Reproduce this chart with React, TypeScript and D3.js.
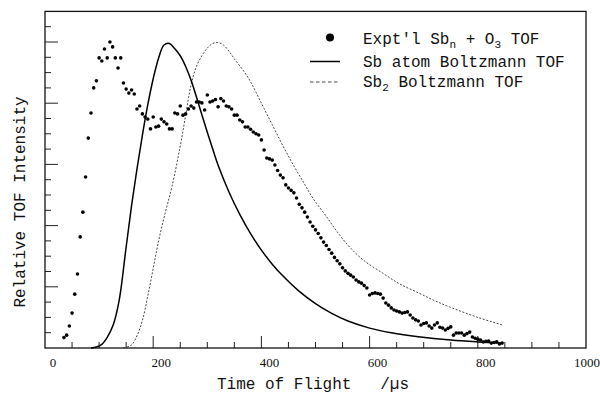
import React from 'react';
import * as d3 from 'd3';

// experimental TOF points (µs, relative intensity)
const exptTime = [
  35, 40, 45, 50, 55, 60, 65, 70, 75, 80, 85, 90, 95, 100, 105, 110, 115, 120, 125, 130,
  135, 140, 145, 150, 155, 160, 165, 170, 175, 180, 185, 190, 195, 200, 205, 210, 215, 220, 225, 230,
  235, 240, 245, 250, 255, 260, 265, 270, 275, 280, 285, 290, 295, 300, 305, 310, 315, 320, 325, 330,
  335, 340, 345, 350, 355, 360, 365, 370, 375, 380, 385, 390, 395, 400, 405, 410, 415, 420, 425, 430,
  435, 440, 445, 450, 455, 460, 465, 470, 475, 480, 485, 490, 495, 500, 505, 510, 515, 520, 525, 530,
  535, 540, 545, 550, 555, 560, 565, 570, 575, 580, 585, 590, 595, 600, 605, 610, 615, 620, 625, 630,
  635, 640, 645, 650, 655, 660, 665, 670, 675, 680, 685, 690, 695, 700, 705, 710, 715, 720, 725, 730,
  735, 740, 745, 750, 755, 760, 765, 770, 775, 780, 785, 790, 795, 800, 805, 810, 815, 820, 825, 830,
  835, 840, 845,
];
const exptIntensity = [
  0.034, 0.042, 0.072, 0.114, 0.176, 0.242, 0.363, 0.444, 0.559, 0.686, 0.768, 0.850, 0.873, 0.948, 0.938, 0.977, 0.948, 1.000, 0.984, 0.948,
  0.915, 0.948, 0.866, 0.846, 0.833, 0.843, 0.830, 0.781, 0.791, 0.765, 0.755, 0.748, 0.716, 0.755, 0.722, 0.725, 0.748, 0.739, 0.732, 0.716,
  0.716, 0.768, 0.765, 0.791, 0.761, 0.765, 0.781, 0.791, 0.784, 0.804, 0.804, 0.801, 0.778, 0.827, 0.804, 0.807, 0.812, 0.788, 0.815, 0.807,
  0.791, 0.788, 0.781, 0.761, 0.761, 0.745, 0.739, 0.722, 0.722, 0.715, 0.706, 0.700, 0.696, 0.680, 0.647, 0.621, 0.618, 0.614, 0.598, 0.580,
  0.565, 0.556, 0.533, 0.523, 0.515, 0.507, 0.490, 0.470, 0.458, 0.444, 0.428, 0.412, 0.398, 0.386, 0.374, 0.360, 0.346, 0.335, 0.322, 0.310,
  0.296, 0.285, 0.275, 0.262, 0.252, 0.244, 0.238, 0.232, 0.222, 0.216, 0.212, 0.204, 0.196, 0.173, 0.178, 0.180, 0.178, 0.176, 0.163, 0.147,
  0.140, 0.131, 0.124, 0.121, 0.118, 0.114, 0.116, 0.118, 0.108, 0.098, 0.092, 0.088, 0.075, 0.080, 0.082, 0.072, 0.065, 0.075, 0.082, 0.068,
  0.065, 0.059, 0.064, 0.069, 0.042, 0.049, 0.049, 0.049, 0.042, 0.047, 0.052, 0.036, 0.032, 0.029, 0.026, 0.020, 0.022, 0.023, 0.016, 0.018,
  0.020, 0.013, 0.016,
];

// Sb atom Boltzmann TOF
const atomTime = [85, 95, 105, 115, 126, 137, 150, 160, 170, 180, 190, 200, 210, 220, 230, 240, 250, 260, 270, 280, 290, 300, 310, 320, 340, 360, 380, 400, 420, 440, 470, 500, 530, 560, 600, 640, 690, 750, 800, 845];
const atomValue = [0, 0.003, 0.012, 0.035, 0.075, 0.155, 0.33, 0.465, 0.585, 0.695, 0.795, 0.88, 0.948, 0.99, 0.995, 0.978, 0.955, 0.92, 0.875, 0.82, 0.762, 0.705, 0.65, 0.597, 0.51, 0.437, 0.374, 0.32, 0.274, 0.235, 0.185, 0.145, 0.113, 0.088, 0.065, 0.05, 0.037, 0.026, 0.02, 0.016];

// Sb2 Boltzmann TOF
const dimerTime = [145, 160, 170, 180, 190, 200, 210, 222, 235, 250, 260, 270, 280, 290, 300, 310, 320, 330, 340, 350, 366, 380, 400, 420, 440, 460, 480, 495, 520, 540, 563, 590, 624, 655, 687, 720, 748, 800, 846];
const dimerValue = [0, 0.01, 0.04, 0.09, 0.17, 0.26, 0.35, 0.44, 0.53, 0.66, 0.76, 0.86, 0.92, 0.955, 0.98, 0.995, 0.998, 0.99, 0.97, 0.945, 0.908, 0.87, 0.8, 0.73, 0.66, 0.595, 0.535, 0.49, 0.43, 0.38, 0.33, 0.285, 0.245, 0.21, 0.183, 0.155, 0.134, 0.1, 0.075];

const xTickLabels = [0, 200, 400, 600, 800, 1000];
const xMinorTicks = d3.range(50, 1000, 50);
const yTicks = d3.range(1, 22).map(i => i * 0.05);

const W = 600;
const H = 393;
const mono = '"Liberation Mono", "DejaVu Sans Mono", monospace';
const serif = '"Liberation Serif", "DejaVu Serif", serif';

export default function App() {
  const x = d3.scaleLinear().domain([0, 1000]).range([45, 586]);
  const y = d3.scaleLinear().domain([0, 1.1]).range([348, 11.4]);

  const line = d3.line<[number, number]>()
    .x(d => x(d[0]))
    .y(d => y(d[1]))
    .curve(d3.curveCatmullRom.alpha(0.5));

  const atomPath = line(atomTime.map((t, i) => [t, atomValue[i]]) as [number, number][]) || '';
  const dimerPath = line(dimerTime.map((t, i) => [t, dimerValue[i]]) as [number, number][]) || '';
  const n = Math.min(exptTime.length, exptIntensity.length);
  const pts = d3.range(n).map(i => [exptTime[i], exptIntensity[i]]);

  const [x0, x1] = x.range();
  const [y0, y1] = y.range();

  return (
    <svg width={W} height={H} style={{ position: 'absolute', left: 0, top: 0, background: '#fff' }}>
      <rect width={W} height={H} fill="#fff" />

      {/* x ticks, inward */}
      {xMinorTicks.map(t => {
        const major = t % 200 === 0;
        return <line key={'xt' + t} x1={x(t)} x2={x(t)} y1={y0} y2={y0 - (major ? 12 : 6)} stroke="#222" strokeWidth={1} />;
      })}
      {xTickLabels.map(t => (
        <text key={'xl' + t} x={t === 1000 ? W : x(t) + 8} y={366.5} textAnchor={t === 1000 ? 'end' : 'middle'} fontFamily={serif} fontSize={13} fill="#111">{t}</text>
      ))}

      {/* y ticks, inward */}
      {yTicks.map((v, i) => {
        const major = (i + 1) % 4 === 0;
        return <line key={'yt' + i} x1={x0} x2={x0 + (major ? 13 : 6)} y1={y(v)} y2={y(v)} stroke="#222" strokeWidth={1} />;
      })}

      {/* frame */}
      <rect x={x0} y={y1} width={x1 - x0} height={y0 - y1} fill="none" stroke="#111" strokeWidth={1.3} />

      {/* curves */}
      <path d={dimerPath} fill="none" stroke="#333" strokeWidth={0.9} strokeDasharray="2,1.6" />
      <path d={atomPath} fill="none" stroke="#000" strokeWidth={1.5} />

      {/* experimental points */}
      {pts.map((p, i) => (
        <circle key={'p' + i} cx={x(p[0])} cy={y(p[1])} r={1.8} fill="#000" />
      ))}

      {/* legend */}
      <g fontFamily={mono} fontSize={16} fill="#111">
        <circle cx={330} cy={37.5} r={4} fill="#000" />
        <text x={363} y={44}>
          Expt'l Sb<tspan fontSize={11} dy={4}>n</tspan><tspan dy={-4}> + O</tspan><tspan fontSize={11} dy={4}>3</tspan><tspan dy={-4}> TOF</tspan>
        </text>
        <line x1={310} x2={340} y1={61.5} y2={61.5} stroke="#000" strokeWidth={1.5} />
        <text x={363} y={66.5}>Sb atom Boltzmann TOF</text>
        <line x1={310} x2={340} y1={82} y2={82} stroke="#333" strokeWidth={0.9} strokeDasharray="3.5,2.5" />
        <text x={363} y={87}>
          Sb<tspan fontSize={11} dy={4}>2</tspan><tspan dy={-4}> Boltzmann TOF</tspan>
        </text>
      </g>

      {/* axis titles */}
      <text x={217} y={389} fontFamily={mono} fontSize={16} fill="#111" xmlSpace="preserve">Time of Flight   /µs</text>
      <text transform="translate(25,202) rotate(-90)" textAnchor="middle" fontFamily={mono} fontSize={16} fill="#111">Relative TOF Intensity</text>
    </svg>
  );
}
